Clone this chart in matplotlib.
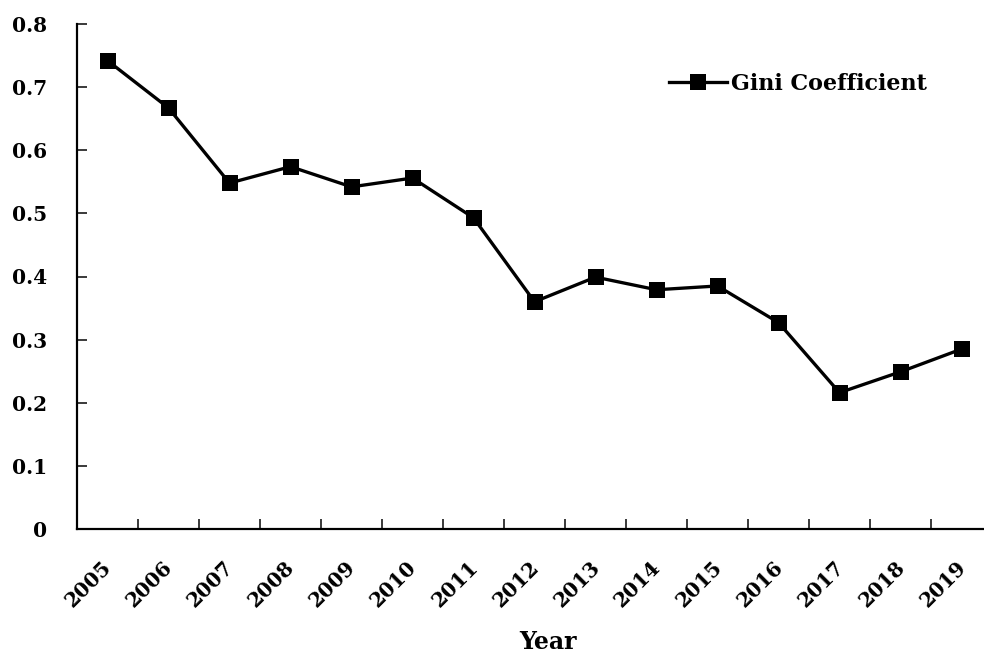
import matplotlib
matplotlib.use('Agg')
import matplotlib.pyplot as plt
import matplotlib.transforms as mtransforms
import numpy

years = ['2005', '2006', '2007', '2008', '2009', '2010', '2011', '2012',
		 '2013', '2014', '2015', '2016', '2017', '2018', '2019']
gini = [0.742, 0.667, 0.548, 0.574, 0.542, 0.556, 0.493, 0.360,
		0.399, 0.379, 0.385, 0.327, 0.216, 0.249, 0.285]
yticks = [0, 0.1, 0.2, 0.3, 0.4, 0.5, 0.6, 0.7, 0.8]
yticklabels = ['0', '0.1', '0.2', '0.3', '0.4', '0.5', '0.6', '0.7', '0.8']

plt.rcParams['font.family'] = ['DejaVu Serif']
plt.rcParams['font.weight'] = 'bold'

W, H = 984, 662
px = 72 / 100  # points per pixel at dpi 100
fig = plt.figure(figsize=(W / 100, H / 100), dpi=100)
# axes runs past the right edge of the figure, as in the source
ax = fig.add_axes([77 / W, 1 - 529 / H, 915 / W, 505 / H])

x = numpy.arange(len(years))
ax.plot(x, gini, color='black', lw=3.3 * px, marker='s', markersize=16 * px,
		markeredgewidth=0, label='Gini Coefficient')

ax.set_xlim(-0.5, len(years) - 0.5)
ax.set_ylim(0, 0.8)

for side in ('top', 'right'):
	ax.spines[side].set_visible(False)
for side in ('left', 'bottom'):
	ax.spines[side].set_linewidth(2.2 * px)

ax.set_yticks(yticks)
ax.set_yticklabels(yticklabels, fontsize=14.5, fontweight='bold')
ax.tick_params(axis='y', direction='in', length=10 * px, width=1.5 * px, pad=30 * px)

# tick marks between categories, labels at category centres
ax.set_xticks(x[:-1] + 0.5)
ax.set_xticklabels([])
ax.tick_params(axis='x', which='major', direction='in', length=10 * px, width=1.5 * px)
ax.set_xticks(x, minor=True)
ax.set_xticklabels(years, minor=True, rotation=45, ha='right', va='top',
				   rotation_mode='anchor', fontsize=14.5, fontweight='bold')
ax.tick_params(axis='x', which='minor', length=0, pad=20)
shift = mtransforms.ScaledTranslation(-6 / 100, 0, fig.dpi_scale_trans)
for lab in ax.get_xticklabels(minor=True):
	lab.set_transform(lab.get_transform() + shift)

ax.set_xlabel('Year', fontsize=17, fontweight='bold')
ax.xaxis.set_label_coords((548 - 77) / 915, -(630 - 529) / 505)
ax.xaxis.label.set_va('top')

fig.legend(loc='center left', bbox_to_anchor=(669 / W, 1 - 84 / H),
		   frameon=False, borderpad=0, borderaxespad=0, handlelength=2.6,
		   handletextpad=0.2, prop={'size': 16, 'weight': 'bold'})

fig.savefig('out.png', dpi=100)
